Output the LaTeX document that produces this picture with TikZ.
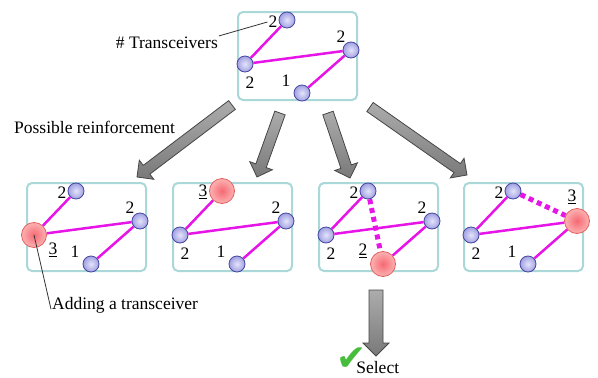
\documentclass[tikz,border=0pt]{standalone}
\usepackage{fontspec}
\setmainfont{Liberation Serif}
\newfontfamily\tickfont{DejaVu Sans}
\usetikzlibrary{calc}

\definecolor{panelline}{RGB}{170,215,215}
\definecolor{trxline}{RGB}{70,70,160}
\definecolor{trxin}{RGB}{228,228,252}
\definecolor{trxout}{RGB}{160,160,225}
\definecolor{newedge}{RGB}{225,95,95}
\definecolor{newin}{RGB}{245,105,115}
\definecolor{newout}{RGB}{252,178,178}
\definecolor{linkcol}{RGB}{230,20,230}
\definecolor{arrowline}{RGB}{70,70,70}
\definecolor{okgreen}{RGB}{70,190,60}

\tikzset{
  panel/.style={draw=panelline, line width=2pt, rounded corners=5pt, minimum width=119pt, minimum height=88pt, inner sep=0pt},
  trx/.style={circle, draw=trxline, line width=0.8pt, inner color=trxin, outer color=trxout, minimum size=16pt, inner sep=0pt},
  newtrx/.style={circle, draw=newedge, line width=0.8pt, inner color=newin, outer color=newout, minimum size=25pt, inner sep=0pt},
  link/.style={draw=linkcol, line width=2.5pt},
  newlink/.style={link, line width=5pt, dash pattern=on 5pt off 4pt},
  lbl/.style={font=\fontsize{17.5}{20}\selectfont, inner sep=1pt},
  fatarrow/.style={draw=arrowline, top color=gray!65, bottom color=gray!95!black, line width=0.8pt, line join=miter}
}

% #1 name, #2 top left corner, #3-#6 styles of the transceivers a-d
\newcommand{\network}[6]{%
  \begin{scope}[shift={#2}]
    \node[panel] (#1) at (59.5,44) {};
    \node[#3] (#1-a) at (49,8) {};
    \node[#4] (#1-b) at (7,52) {};
    \node[#5] (#1-c) at (113,38) {};
    \node[#6] (#1-d) at (64,81) {};
    \draw[link] (#1-a) -- (#1-b) -- (#1-c) -- (#1-d);
  \end{scope}}

% #1 tail, #2 tip, #3 half shaft, #4 head length, #5 half head
\newcommand{\blockarrow}[5]{%
  \coordinate (#1-base) at ($(#2)!#4!(#1)$);
  \draw[fatarrow] ($(#1)!#3!90:(#2)$) -- ($(#1-base)!#3!-90:(#1)$) -- ($(#1-base)!#5!-90:(#1)$)
    -- (#2) -- ($(#1-base)!#5!90:(#1)$) -- ($(#1-base)!#3!90:(#1)$) -- ($(#1)!#3!-90:(#2)$) -- cycle;}

\begin{document}
\begin{tikzpicture}[x=1pt, y=-1pt]
\useasboundingbox (0,0) rectangle (598,378);

\network{top}{(238,12)}{trx}{trx}{trx}{trx}
\network{p1}{(27,183)}{trx}{newtrx}{trx}{trx}
\network{p2}{(173,183)}{newtrx}{trx}{trx}{trx}
\network{p3}{(319,183)}{trx}{trx}{trx}{newtrx}
\network{p4}{(464,183)}{trx}{trx}{newtrx}{trx}
\draw[newlink] (p3-a) -- (p3-d);
\draw[newlink] (p4-a) -- (p4-c);

\foreach \p in {top,p1,p3,p4} \node[lbl] (\p-la) at ([shift={(-14,2)}]\p-a) {2};
\foreach \p in {top,p2,p3,p4} \node[lbl] (\p-lb) at ([shift={(5,19)}]\p-b) {2};
\foreach \p in {top,p1,p2,p3} \node[lbl] (\p-lc) at ([shift={(-10,-13)}]\p-c) {2};
\foreach \p in {top,p1,p2,p4} \node[lbl] (\p-ld) at ([shift={(-16,-12)}]\p-d) {1};
\node[lbl] (p1-lb) at ([shift={(19,15)}]p1-b) {\underline{3}};
\node[lbl] (p2-la) at ([shift={(-19,1)}]p2-a) {\underline{3}};
\node[lbl] (p3-ld) at ([shift={(-20,-13)}]p3-d) {\underline{2}};
\node[lbl] (p4-lc) at ([shift={(-5,-24)}]p4-c) {\underline{3}};

\coordinate (t1) at (232,105); \coordinate (h1) at (137,177);
\coordinate (t2) at (280,113); \coordinate (h2) at (257,177);
\coordinate (t3) at (328,113); \coordinate (h3) at (350,178);
\coordinate (t4) at (370,107); \coordinate (h4) at (467,175);
\coordinate (t5) at (376,290); \coordinate (h5) at (376,356);
\foreach \i in {1,...,4} \blockarrow{t\i}{h\i}{5.5pt}{12pt}{12pt};
\blockarrow{t5}{h5}{7pt}{13pt}{13pt};

\node[lbl, anchor=east] (trx-note) at (219,43) {\# Transceivers};
\draw[black!80, line width=0.8pt] (trx-note.north east) -- (top-la.west);
\node[lbl, anchor=west] (reinf) at (13,127) {Possible reinforcement};
\node[lbl, anchor=west] (adding) at (51,305) {Adding a transceiver};
\draw[black!80, line width=0.8pt] (p1-b.center) -- (adding.base west);
\node[lbl, anchor=base west, inner sep=0pt] (select) at (336,373)
  {\raisebox{3pt}{\tickfont\fontsize{36}{36}\selectfont\color{okgreen}✔}\kern-10pt Select};
\end{tikzpicture}
\end{document}
